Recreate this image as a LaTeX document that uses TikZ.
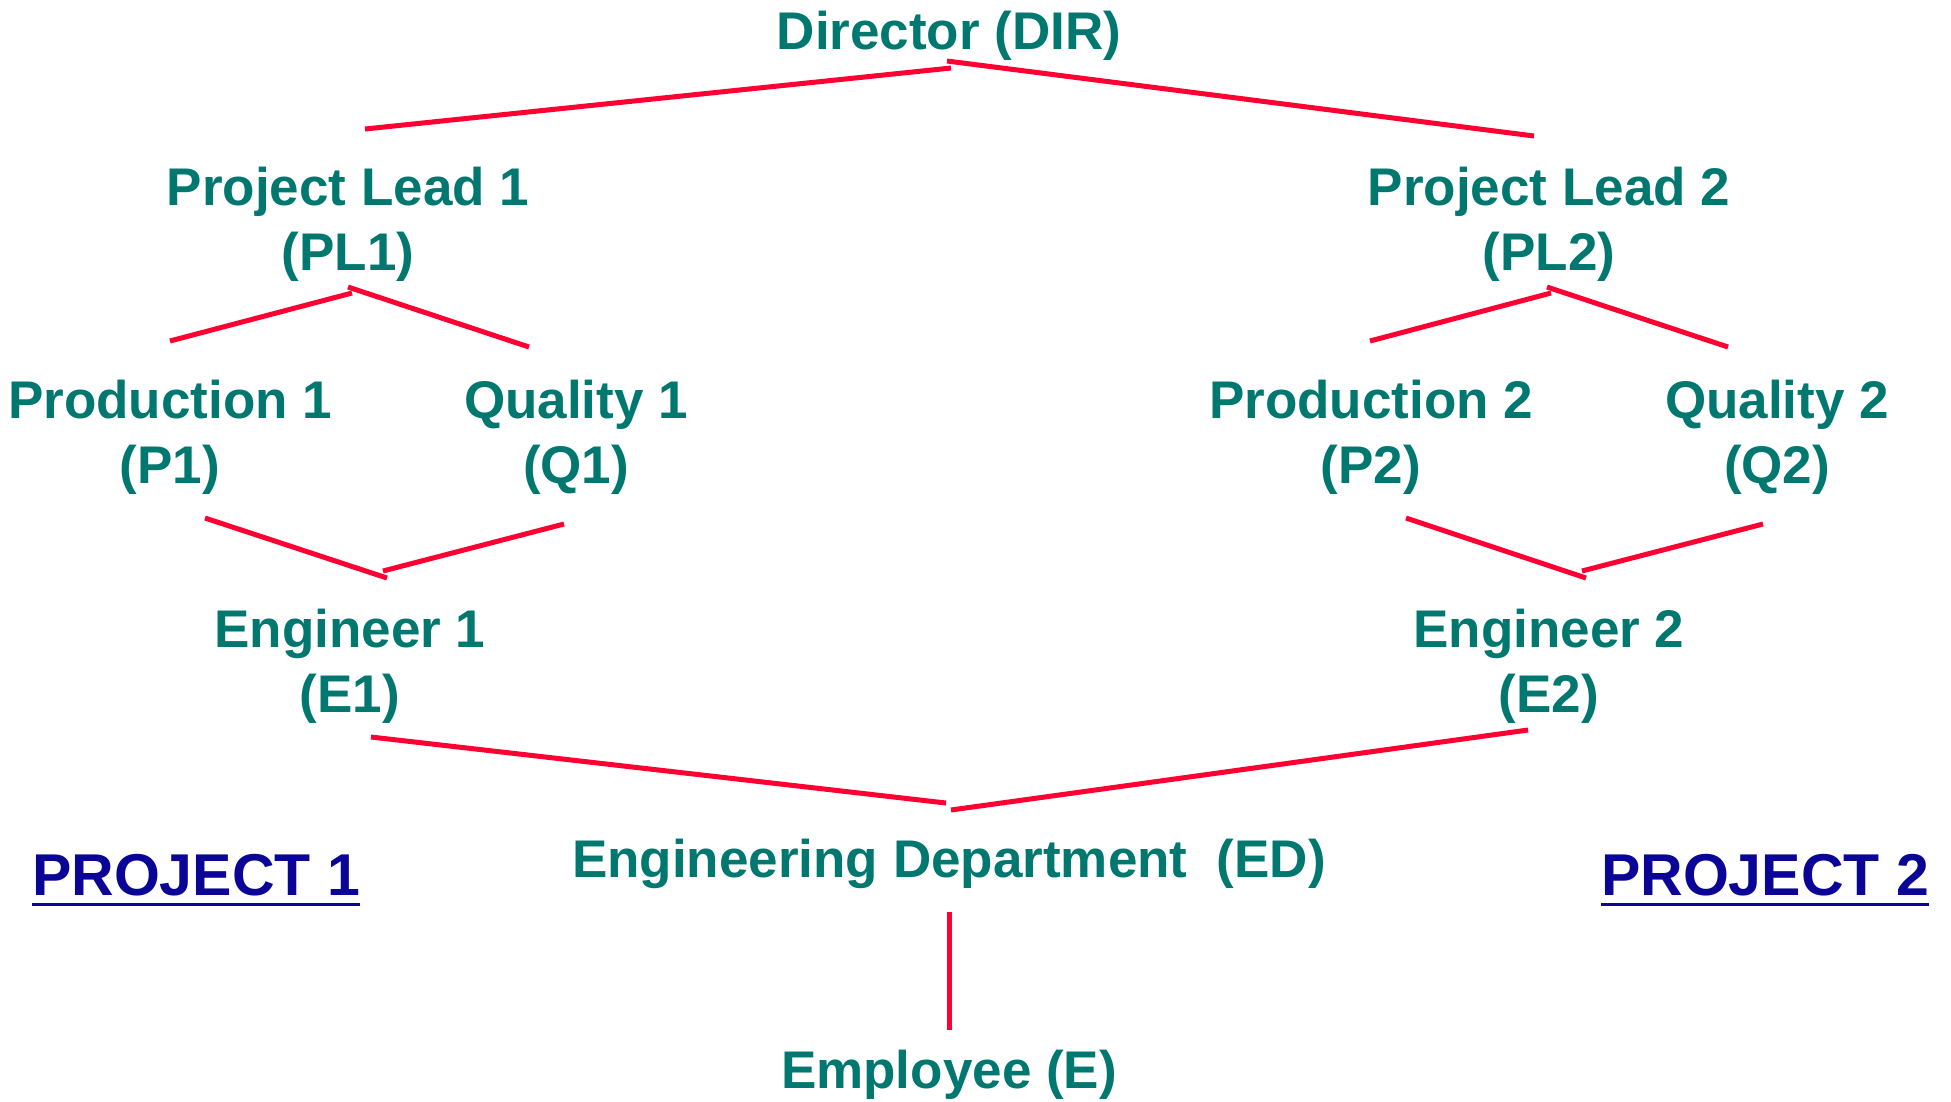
\documentclass[tikz,border=0pt]{standalone}
\usepackage{fontspec}
\setmainfont{Liberation Sans}
\definecolor{tealtxt}{RGB}{0,120,112}
\definecolor{linered}{RGB}{255,0,51}
\definecolor{projblue}{RGB}{10,5,150}
\begin{document}
\begin{tikzpicture}[x=1pt,y=-1pt,
  lbl/.style={text=tealtxt, font=\fontsize{53}{65}\selectfont\bfseries, align=center, inner sep=0pt},
  conn/.style={draw=linered, line width=5pt},
  proj/.style={text=projblue, font=\fontsize{59}{65}\selectfont\bfseries, inner sep=0pt, anchor=base},
  uline/.style={draw=projblue, line width=3pt}]
\useasboundingbox[fill=white] (0,0) rectangle (1951,1101);
% nodes
\node[lbl] (dir) at (949,36) {Director (DIR)};
\node[lbl] (pl1) at (348,224) {Project Lead 1\\(PL1)};
\node[lbl] (pl2) at (1549,224) {Project Lead 2\\(PL2)};
\node[lbl] (p1) at (170,437) {Production 1\\(P1)};
\node[lbl] (q1) at (576,437) {Quality 1\\(Q1)};
\node[lbl] (p2) at (1371,437) {Production 2\\(P2)};
\node[lbl] (q2) at (1777,437) {Quality 2\\(Q2)};
\node[lbl] (e1) at (350,666) {Engineer 1\\(E1)};
\node[lbl] (e2) at (1549,666) {Engineer 2\\(E2)};
\node[lbl] (ed) at (949,864) {Engineering Department\ \ (ED)};
\node[lbl] (emp) at (949,1075) {Employee (E)};
\node[proj] (prj1) at (196,895) {PROJECT 1};
\node[proj] (prj2) at (1765,895) {PROJECT 2};
\draw[uline] ([yshift=-9pt]prj1.base west) -- ([yshift=-9pt]prj1.base east);
\draw[uline] ([yshift=-9pt]prj2.base west) -- ([yshift=-9pt]prj2.base east);
% connector end points
\coordinate (dirL) at (365,129);
\coordinate (dirJ1) at (951,68);
\coordinate (dirJ2) at (947,61);
\coordinate (dirR) at (1534,136);
\coordinate (pl1L) at (170,341);
\coordinate (pl1J1) at (352,293);
\coordinate (pl1J2) at (348,287);
\coordinate (pl1R) at (529,347);
\coordinate (pl2L) at (1370,341);
\coordinate (pl2J1) at (1551,293);
\coordinate (pl2J2) at (1547,287);
\coordinate (pl2R) at (1728,347);
\coordinate (e1L) at (205,518);
\coordinate (e1J1) at (387,578);
\coordinate (e1J2) at (383,571);
\coordinate (e1R) at (564,524);
\coordinate (e2L) at (1406,518);
\coordinate (e2J1) at (1586,578);
\coordinate (e2J2) at (1582,571);
\coordinate (e2R) at (1763,524);
\coordinate (edL) at (371,737);
\coordinate (edJ1) at (946,803);
\coordinate (edJ2) at (951,810);
\coordinate (edR) at (1528,730);
\coordinate (edB) at (949,912);
\coordinate (empT) at (949,1030);
% connectors
\draw[conn] (dirL) -- (dirJ1);
\draw[conn] (dirJ2) -- (dirR);
\draw[conn] (pl1L) -- (pl1J1);
\draw[conn] (pl1J2) -- (pl1R);
\draw[conn] (pl2L) -- (pl2J1);
\draw[conn] (pl2J2) -- (pl2R);
\draw[conn] (e1L) -- (e1J1);
\draw[conn] (e1J2) -- (e1R);
\draw[conn] (e2L) -- (e2J1);
\draw[conn] (e2J2) -- (e2R);
\draw[conn] (edL) -- (edJ1);
\draw[conn] (edJ2) -- (edR);
\draw[conn] (edB) -- (empT);
\end{tikzpicture}
\end{document}
